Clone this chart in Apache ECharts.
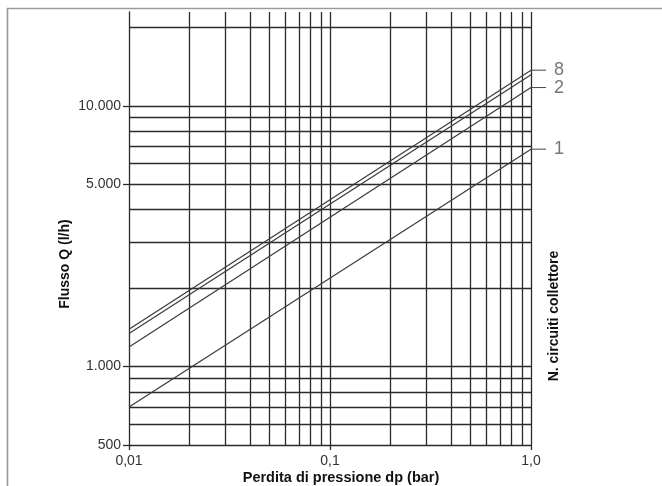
<!DOCTYPE html>
<html>
<head>
<meta charset="utf-8">
<script src="https://cdn.jsdelivr.net/npm/echarts@6/dist/echarts.min.js"></script>
<style>
html,body{margin:0;padding:0;background:#fff;}
#chart{width:662px;height:486px;}
</style>
</head>
<body>
<div id="chart"></div>
<script>
// ---- data ----
const dpPoints = [0.01, 1.0];                  // Perdita di pressione dp (bar)
const curve8 = [1390, 13700];                  // N. circuiti 8
const curve4 = [1340, 13150];                  // unlabeled curve
const curve2 = [1188, 11750];                  // N. circuiti 2
const curve1 = [700, 6820];                    // N. circuiti 1
const seriesNames = ['8', '', '2', '1'];
const yGridValues = [600, 700, 800, 900, 1000, 2000, 3000, 4000, 5000, 6000, 7000, 8000, 9000, 10000, 20000];
const yLabelValues = [500, 1000, 5000, 10000];
const xGridValues = [0.02, 0.03, 0.04, 0.05, 0.06, 0.07, 0.08, 0.09, 0.1, 0.2, 0.3, 0.4, 0.5, 0.6, 0.7, 0.8, 0.9, 1.0];
const xLabelValues = [0.01, 0.1, 1.0];
const yMin = 500, yMax = 22900, xMin = 0.01, xMax = 1.0;

const curves = [curve8, curve4, curve2, curve1];

const chart = echarts.init(document.getElementById('chart'), null, {renderer: 'canvas'});

const gridColor = '#2a2a2a';
const FONT = 'Liberation Sans, Arial, sans-serif';

function yFmt(v) {
  if (v >= 1000) return (v / 1000) + '.000';
  return String(v);
}
function xFmt(v) {
  if (Math.abs(v - 1) < 1e-9) return '1,0';
  return String(v).replace('.', ',');
}

const series = curves.map((vals, i) => ({
  type: 'line',
  name: seriesNames[i],
  xAxisIndex: 0,
  yAxisIndex: 0,
  data: dpPoints.map((x, j) => [x, vals[j]]),
  symbol: 'none',
  silent: true,
  lineStyle: {color: '#3a3a3a', width: 1.2},
  endLabel: seriesNames[i] ? {
    show: true,
    distance: 0,
    formatter: '{l|}{n|' + seriesNames[i] + '}',
    rich: {
      l: {width: 15, height: 1, backgroundColor: '#444'},
      n: {fontSize: 18, color: '#777', fontFamily: FONT, padding: [0, 0, 0, 8]}
    }
  } : {show: false}
}));

chart.setOption({
  backgroundColor: '#fff',
  animation: false,
  grid: {left: 129, right: 131, top: 12, bottom: 41, containLabel: false},
  xAxis: [
    {
      type: 'log', logBase: 10, min: xMin, max: xMax, position: 'bottom',
      axisLine: {show: true, lineStyle: {color: gridColor, width: 1.3}},
      axisTick: {show: false, customValues: xGridValues},
      axisLabel: {show: false},
      splitLine: {show: true, lineStyle: {color: gridColor, width: 1.3}}
    },
    {
      type: 'log', logBase: 10, min: xMin, max: xMax, position: 'bottom', offset: 0,
      axisLine: {show: false},
      axisTick: {show: true, length: 5, customValues: xLabelValues, lineStyle: {color: gridColor, width: 1.3}},
      axisLabel: {show: true, customValues: xLabelValues, formatter: xFmt, color: '#333', fontSize: 14, fontFamily: FONT, margin: 9},
      splitLine: {show: false}
    }
  ],
  yAxis: [
    {
      type: 'log', logBase: 10, min: yMin, max: yMax, position: 'left',
      axisLine: {show: true, lineStyle: {color: gridColor, width: 1.3}},
      axisTick: {show: false, customValues: yGridValues},
      axisLabel: {show: false},
      splitLine: {show: true, lineStyle: {color: gridColor, width: 1.3}}
    },
    {
      type: 'log', logBase: 10, min: yMin, max: yMax, position: 'left', offset: 0,
      axisLine: {show: false},
      axisTick: {show: true, length: 6, customValues: yLabelValues, lineStyle: {color: gridColor, width: 1.3}},
      axisLabel: {show: true, customValues: yLabelValues, formatter: yFmt, color: '#333', fontSize: 14, fontFamily: FONT, margin: 8},
      splitLine: {show: false}
    }
  ],
  series: series,
  graphic: [
    {
      type: 'polyline', silent: true,
      shape: {points: [[7.5, 486], [7.5, 8.5], [662, 8.5]]},
      style: {stroke: '#9a9a9a', lineWidth: 1.6, fill: null}
    },
    {
      type: 'text', x: 341, y: 478, silent: true,
      style: {text: 'Perdita di pressione dp (bar)', font: 'bold 14.5px ' + FONT, fill: '#111', align: 'center', verticalAlign: 'middle'}
    },
    {
      type: 'text', x: 65.5, y: 264, rotation: Math.PI / 2, silent: true,
      style: {text: 'Flusso Q (l/h)', font: 'bold 14px ' + FONT, fill: '#111', align: 'center', verticalAlign: 'middle'}
    },
    {
      type: 'text', x: 554, y: 316, rotation: Math.PI / 2, silent: true,
      style: {text: 'N. circuiti collettore', font: 'bold 14px ' + FONT, fill: '#111', align: 'center', verticalAlign: 'middle'}
    }
  ]
});
</script>
</body>
</html>
